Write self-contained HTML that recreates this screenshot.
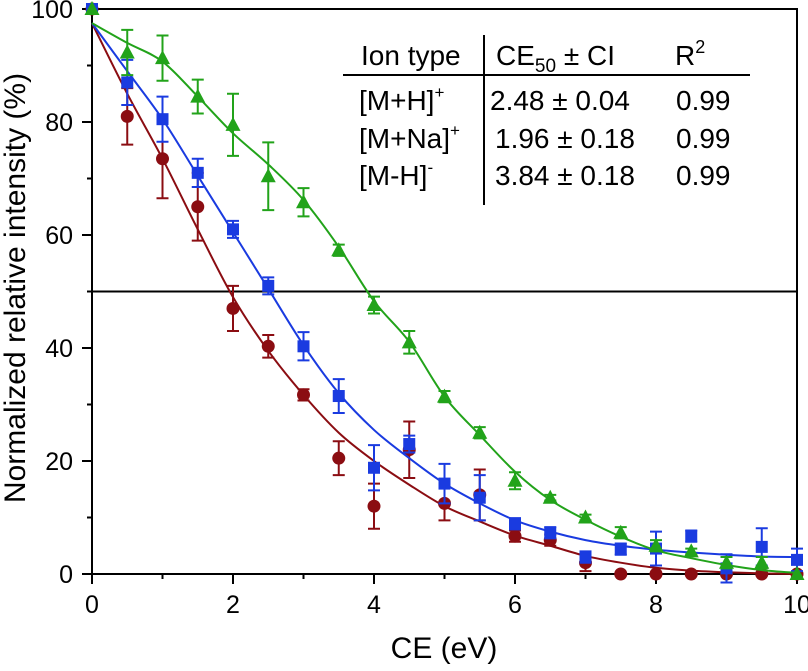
<!DOCTYPE html>
<html><head><meta charset="utf-8"><style>
body{margin:0;background:#fff;width:808px;height:666px;overflow:hidden}
text{font-family:"Liberation Sans",Arial,sans-serif;fill:#000}
</style></head><body>
<svg id="chart" width="808" height="666" viewBox="0 0 808 666" xmlns="http://www.w3.org/2000/svg">
<g id="grid"></g>
<g id="series"></g>
<g id="table">
 <line x1="343" y1="75" x2="750" y2="75" stroke="#000" stroke-width="2"/>
 <line x1="484" y1="35" x2="484" y2="205" stroke="#000" stroke-width="2"/>
 <g font-size="28">
  <text x="361" y="65">Ion type</text>
  <text x="496" y="65">CE<tspan font-size="19" dy="7">50</tspan><tspan dy="-7"> ± CI</tspan></text>
  <text x="675" y="65">R<tspan font-size="18" dy="-12">2</tspan></text>
  <text x="359" y="110">[M+H]<tspan font-size="17" dy="-12">+</tspan></text>
  <text x="490" y="110">2.48 ± 0.04</text>
  <text x="676" y="110">0.99</text>
  <text x="359" y="148">[M+Na]<tspan font-size="17" dy="-12">+</tspan></text>
  <text x="495" y="148">1.96 ± 0.18</text>
  <text x="676" y="148">0.99</text>
  <text x="359" y="185">[M-H]<tspan font-size="17" dy="-12">-</tspan></text>
  <text x="495" y="185">3.84 ± 0.18</text>
  <text x="676" y="185">0.99</text>
 </g>
</g>
<text x="444" y="658" font-size="30" text-anchor="middle">CE (eV)</text>
<text transform="translate(25,288) rotate(-90)" font-size="30" text-anchor="middle">Normalized relative intensity (%)</text>
</svg>
<script>
const ceValues=[0,0.5,1,1.5,2,2.5,3,3.5,4,4.5,5,5.5,6,6.5,7,7.5,8,8.5,9,9.5,10];
const naValues=[100,81,73.5,65,47,40.3,31.7,20.5,12,22,12.5,14,6.7,6,2,0,0,0,0,0,0];
const naErrors=[0,5,7,6,4,2,1,3,4,5,3,4.5,1,1,1.5,0,0,0,0,0,0];
const naFit=[97.5,85,73.5,61,49,39.5,31.7,25,20,15.8,12,9.3,6.8,5,3.2,2,1.1,0.6,0.3,0.1,0];
const hValues=[100,87,80.5,71,61,51,40.3,31.5,18.8,23,16,13.5,8.9,7.3,3,4.4,4.5,6.7,1,4.8,2.5];
const hErrors=[0,4,4,2.5,1.5,1.5,2.5,3,4,1.5,3.5,4,1,1,1,1,3,1,2.5,3.3,2];
const hFit=[97.5,89,80.5,70.5,60.5,50.5,40.5,32,25.5,20.5,16,12.5,9.5,7.5,6,5,4.3,3.8,3.4,3.1,3];
const mhValues=[100,92.3,91.3,84.5,79.5,70.4,65.8,57.3,47.6,41,31.4,25,16.5,13.5,10,7.3,5,4,2,2,0];
const mhErrors=[0,4,4,3,5.5,6,2.5,1,1.5,2,1,1,1.5,0.5,0.5,1,1,0.5,1,1,0];
const mhFit=[97.5,94,90.7,84.5,78,72.5,66.2,57.9,48.3,41.1,31.4,24.6,18.1,13.1,9.6,6.6,4.2,2.8,1.6,0.7,0.2];
const xTicks=[0,2,4,6,8,10];
const yTicks=[0,20,40,60,80,100];

const X0=92,X1=797,Y0=574,Y1=9;
const xs=v=>X0+(X1-X0)*v/10;
const ys=v=>Y0-(Y0-Y1)*v/100;
const NS='http://www.w3.org/2000/svg';
function mk(tag,attrs,parent){const e=document.createElementNS(NS,tag);for(const k in attrs)e.setAttribute(k,attrs[k]);parent.appendChild(e);return e;}
const grid=document.getElementById('grid'),ser=document.getElementById('series');

const fr=mk('rect',{x:X0,y:Y1,width:X1-X0,height:Y0-Y1,fill:'none',stroke:'#000','stroke-width':2},grid);


const hl=mk('line',{x1:X0,x2:X1,y1:ys(50),y2:ys(50),stroke:'#000','stroke-width':2},grid);


for(let v=0;v<=10;v++){
  const major=v%2===0;
  const t=mk('line',{x1:xs(v),x2:xs(v),y1:Y0,y2:Y0+(major?10:5),stroke:'#000','stroke-width':2},grid);
  
  
}
xTicks.forEach(v=>{
  const t=mk('text',{x:xs(v),y:Y0+39,'font-size':25,'text-anchor':'middle'},grid);t.textContent=v;
  
  
});
for(let v=0;v<=100;v+=10){
  const major=v%20===0;
  const t=mk('line',{x1:X0-(major?10:5),x2:X0,y1:ys(v),y2:ys(v),stroke:'#000','stroke-width':2},grid);
  
  
}
yTicks.forEach(v=>{
  const t=mk('text',{x:X0-19,y:ys(v)+9,'font-size':25,'text-anchor':'end'},grid);t.textContent=v;
  
  
});

function curvePath(fit){
  const p=fit.map((v,i)=>[xs(ceValues[i]),ys(v)]);
  let d='M'+p[0][0]+','+p[0][1];
  for(let i=0;i<p.length-1;i++){
    const p0=p[Math.max(0,i-1)],p1=p[i],p2=p[i+1],p3=p[Math.min(p.length-1,i+2)];
    const c1=[p1[0]+(p2[0]-p0[0])/6,p1[1]+(p2[1]-p0[1])/6];
    const c2=[p2[0]-(p3[0]-p1[0])/6,p2[1]-(p3[1]-p1[1])/6];
    d+=` C${c1[0]},${c1[1]} ${c2[0]},${c2[1]} ${p2[0]},${p2[1]}`;
  }
  return d;
}
function drawSeries(vals,errs,fit,color,shape,name){
  const g=mk('g',{},ser);
  
  
  const c=mk('path',{d:curvePath(fit),fill:'none',stroke:color,'stroke-width':2},g);
  
  
  vals.forEach((v,i)=>{
    const x=xs(ceValues[i]),y=ys(v),e=errs[i];
    if(e>0){
      const yt=ys(v+e),yb=ys(v-e);
      const eb=mk('path',{d:`M${x},${yt}V${yb}M${x-6},${yt}H${x+6}M${x-6},${yb}H${x+6}`,stroke:color,'stroke-width':2,fill:'none'},g);
      
      
    }
    let m;
    if(shape==='circle')m=mk('circle',{cx:x,cy:y,r:6.5,fill:color},g);
    else if(shape==='square')m=mk('rect',{x:x-6,y:y-6,width:12,height:12,fill:color},g);
    else m=mk('polygon',{points:`${x},${y-8} ${x+7.5},${y+6} ${x-7.5},${y+6}`,fill:color},g);
    
    
  });
}
drawSeries(naValues,naErrors,naFit,'#8b0d12','circle','m-plus-na');
drawSeries(hValues,hErrors,hFit,'#1a3be0','square','m-plus-h');
drawSeries(mhValues,mhErrors,mhFit,'#22a31a','triangle','m-minus-h');
</script>
</body></html>
